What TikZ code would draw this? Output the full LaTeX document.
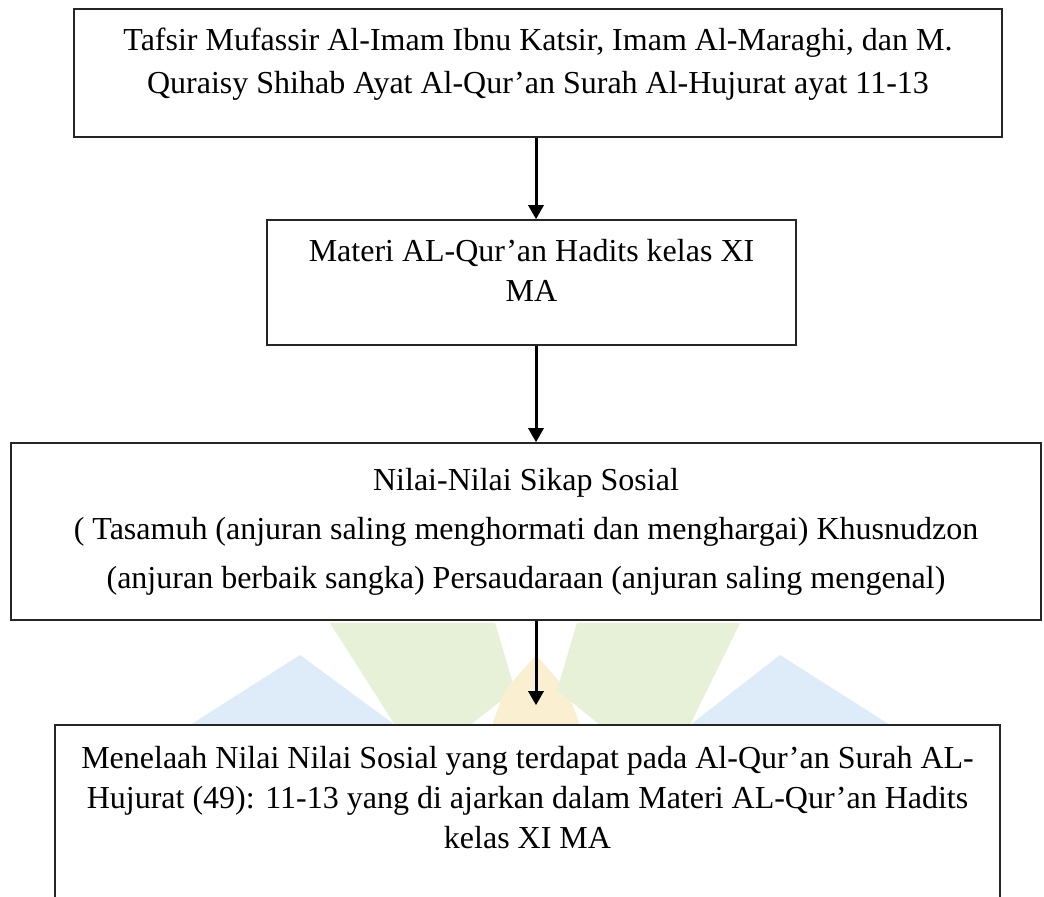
\documentclass[tikz,border=0pt]{standalone}
\usepackage{fontspec}
\setmainfont{Liberation Serif}
\usetikzlibrary{arrows.meta,positioning}
\definecolor{WmHijau}{HTML}{E6F1D8}
\definecolor{WmBiru}{HTML}{DDECF8}
\definecolor{WmKuning}{HTML}{FBEFD2}

\begin{document}
\begin{tikzpicture}[x=0.5pt,y=-0.5pt,
  kotak/.style={draw=black!85,fill=white,line width=0.8pt,inner sep=0pt},
  teks/.style={inner sep=0pt,align=center,anchor=north},
  panah/.style={-{Triangle[width=7.5pt,length=7pt]},line width=1.5pt}]
  \clip (0,0) rectangle (1044,896);
  \coordinate (sumbu) at (536,0);
  % logo samar di belakang
  \fill[WmBiru] (190,725) -- (300,655) -- (395,725) -- cycle;
  \fill[WmHijau] (330,623) -- (495,623) -- (515,690) -- (470,725) -- (395,725) -- cycle;
  \fill[WmKuning] (505,690) -- (536,655) -- (567,690) -- (580,725) -- (492,725) -- cycle;
  \fill[WmHijau] (577,623) -- (740,623) -- (690,725) -- (600,725) -- (557,690) -- cycle;
  \fill[WmBiru] (690,725) -- (780,655) -- (890,725) -- cycle;
  \node[kotak,minimum width=464pt,minimum height=64pt] (tafsir) at (538,73) {};
  \node[teks,font={\fontsize{16}{21.5}\selectfont}] (tafsirT) at (538,28) {Tafsir Mufassir Al-Imam Ibnu Katsir, Imam Al-Maraghi, dan M.\\Quraisy Shihab Ayat Al-Qur’an Surah Al-Hujurat ayat 11-13};
  \node[kotak,minimum width=264.5pt,minimum height=62.5pt] (materi) at (531.5,282.5) {};
  \node[teks,font={\fontsize{16}{20}\selectfont}] (materiT) at (531.5,239) {Materi AL-Qur’an Hadits kelas XI\\MA};
  \node[kotak,minimum width=515pt,minimum height=88.5pt] (nilai) at (526,531.5) {};
  \node[teks,font={\fontsize{16}{24.5}\selectfont}] (nilaiT) at (526,468) {Nilai-Nilai Sikap Sosial\\( Tasamuh (anjuran saling menghormati dan menghargai) Khusnudzon\\(anjuran berbaik sangka) Persaudaraan (anjuran saling mengenal)};
  \node[kotak,minimum width=472.5pt,minimum height=97.5pt] (telaah) at (527.5,822.5) {};
  \node[teks,font={\fontsize{16}{20}\selectfont}] (telaahT) at (527.5,746) {Menelaah Nilai Nilai Sosial yang terdapat pada Al-Qur’an Surah AL-\\Hujurat (49): 11-13 yang di ajarkan dalam Materi AL-Qur’an Hadits\\kelas XI MA};
  % alur
  \draw[panah] (tafsir.south -| sumbu) -- (materi.north -| sumbu);
  \draw[panah] (materi.south -| sumbu) -- (nilai.north -| sumbu);
  \draw[panah,shorten >=9.5pt] (nilai.south -| sumbu) -- (telaah.north -| sumbu);
\end{tikzpicture}
\end{document}
